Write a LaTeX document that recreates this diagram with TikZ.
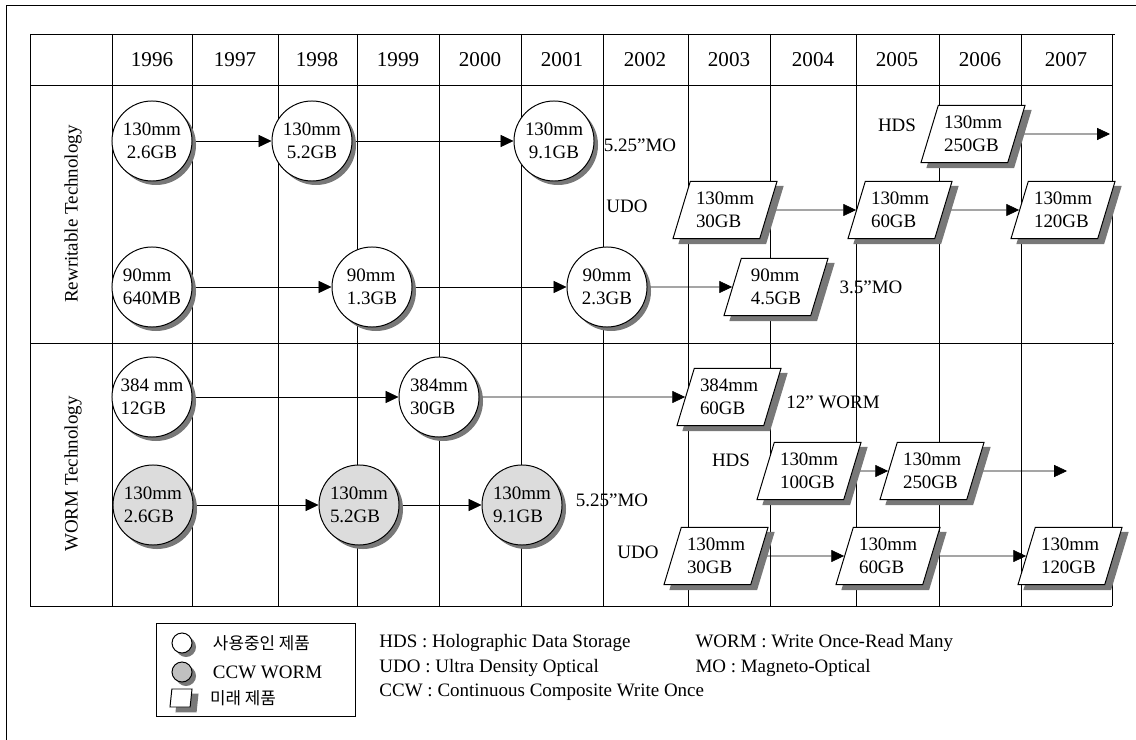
\documentclass[tikz,border=0pt]{standalone}
\usepackage{fontspec}
\setmainfont{Liberation Serif}
\newfontfamily\krfont{Noto Sans CJK KR}
\usepackage{tikz}
\usetikzlibrary{shapes.geometric, arrows.meta, positioning, backgrounds}
\definecolor{shadowgray}{RGB}{120,120,120}
\definecolor{ccwfill}{RGB}{220,220,220}
\definecolor{legfill}{RGB}{192,192,192}

\begin{document}
\begin{tikzpicture}[
  x=0.025cm, y=-0.025cm,
  line width=0.7pt,
  font=\fontsize{13.5}{16.5}\selectfont,
  disc/.style={circle, draw, fill=white, minimum size=2cm, inner sep=0pt, align=center},
  ccw/.style={disc, fill=ccwfill, align=left},
  future/.style={trapezium, trapezium left angle=66, trapezium right angle=114,
    trapezium stretches body=true, draw, fill=white, minimum width=2.6cm, minimum height=1.43cm,
    inner sep=1pt, align=left},
  csh/.style={shift={(0.1cm,-0.1cm)}},
  psh/.style={shift={(0.15cm,-0.125cm)}},
  tag/.style={inner sep=1pt},
  legtext/.style={inner sep=0pt, anchor=west},
  flow/.style={-{Triangle[length=0.32cm, width=0.3cm]}},
  yearlabel/.style={font=\fontsize{15}{18}\selectfont}
]
\useasboundingbox (0,0) rectangle (1136,740);

% frame and table grid
\begin{scope}[on background layer]
\draw (6,740) -- (6,5) -- (1136,5);
\draw (30,34) -- (1115,34);
\draw (30,85) -- (1112,85);
\draw (30,343) -- (1114,343);
\draw (30,606) -- (1112,606);
\foreach \gx in {30,112,192,278,357,439,521,603,688,770,856,939,1021,1112}
  \draw (\gx,34) -- (\gx,606);
\end{scope}
\foreach \yr/\cx in {1996/152,1997/235,1998/317,1999/398,2000/480,2001/562,2002/645,2003/729,2004/813,2005/897,2006/980,2007/1066}
  \node[yearlabel] (y\yr) at (\cx,60) {\yr};
\node[rotate=90] (rwLabel) at (73,214) {Rewritable Technology};
\node[rotate=90] (wormLabel) at (73,474) {WORM Technology};

% rewritable
\node[disc] (mo130a) at (152,141) {130mm\\2.6GB};
\node[disc] (mo130b) at (312,141) {130mm\\5.2GB};
\node[disc] (mo130c) at (554,141) {130mm\\9.1GB};
\node[tag] (moA) at (640,145) {5.25”MO};
\node[tag] (hdsA) at (897,125) {HDS};
\node[future] (hds250a) at (973,134) {130mm\\250GB};
\coordinate (hdsAend) at (1110,134);
\node[tag] (udoA) at (627,206) {UDO};
\node[future] (udo30a) at (725,210) {130mm\\30GB};
\node[future] (udo60a) at (900,210) {130mm\\60GB};
\node[future] (udo120a) at (1063,210) {130mm\\120GB};
\node[disc, align=left] (mo90a) at (152,287) {90mm\\640MB};
\node[disc, align=left] (mo90b) at (372,287) {90mm\\1.3GB};
\node[disc] (mo90c) at (607,287) {90mm\\2.3GB};
\node[future] (mo90d) at (776,287) {90mm\\4.5GB};
\node[tag] (moB) at (871,287) {3.5”MO};

% worm
\node[disc, align=left] (w384a) at (152,397) {384 mm\\12GB};
\node[disc, align=left] (w384b) at (439,397) {384mm\\30GB};
\node[future] (w384c) at (729,397) {384mm\\60GB};
\node[tag] (wormA) at (833,402) {12” WORM};
\node[tag] (hdsB) at (731,460) {HDS};
\node[future] (hds100b) at (809,471) {130mm\\100GB};
\node[future] (hds250b) at (932,471) {130mm\\250GB};
\coordinate (hdsBend) at (1067,471);
\node[ccw] (ccwa) at (153,505) {130mm\\2.6GB};
\node[ccw] (ccwb) at (359,505) {130mm\\5.2GB};
\node[ccw] (ccwc) at (522,505) {130mm\\9.1GB};
\node[tag] (moC) at (612,500) {5.25”MO};
\node[tag] (udoB) at (638,552) {UDO};
\node[future] (udo30b) at (716,556) {130mm\\30GB};
\node[future] (udo60b) at (888,556) {130mm\\60GB};
\node[future] (udo120b) at (1070,556) {130mm\\120GB};

% legend
\node[draw, minimum width=4.95cm, minimum height=2.3cm] (legBox) at (256,670) {};
\node[disc, minimum size=0.5cm] (legUse) at (182,643) {};
\node[disc, fill=legfill, minimum size=0.5cm] (legCcw) at (182,672) {};
\node[future, minimum width=0.55cm, minimum height=0.45cm, inner sep=0.5pt] (legFut) at (181,698) {\rule{0pt}{2pt}\rule{2pt}{0pt}};
\node[legtext, right=0.5cm of legUse, font=\krfont\fontsize{12}{14}\selectfont] (legUseTxt) {사용중인 제품};
\node[legtext, right=0.5cm of legCcw] (legCcwTxt) {CCW WORM};
\node[legtext, right=0.45cm of legFut, font=\krfont\fontsize{12}{14}\selectfont] (legFutTxt) {미래 제품};
\node[legtext] (abHds) at (379,643) {HDS : Holographic Data Storage};
\node[legtext] (abUdo) at (379,668) {UDO : Ultra Density Optical};
\node[legtext] (abCcw) at (379,692) {CCW : Continuous Composite Write Once};
\node[legtext] (abWorm) at (695,643) {WORM : Write Once-Read Many};
\node[legtext] (abMo) at (695,668) {MO : Magneto-Optical};

% arrows and shadows behind the nodes
\begin{scope}[on background layer]
\draw[flow] (mo130a) -- (mo130b);
\draw[flow] (mo130b) -- (mo130c);
\draw[flow] (hds250a) -- (hdsAend);
\draw[flow] (udo30a) -- (udo60a);
\draw[flow] (udo60a) -- (udo120a);
\draw[flow] (mo90a) -- (mo90b);
\draw[flow] (mo90b) -- (mo90c);
\draw[flow] (mo90c) -- (mo90d);
\draw[flow] (w384a) -- (w384b);
\draw[flow] (w384b) -- (w384c);
\draw[flow] (hds100b) -- (hds250b);
\draw[flow] (hds250b) -- (hdsBend);
\draw[flow] (ccwa) -- (ccwb);
\draw[flow] (ccwb) -- (ccwc);
\draw[flow] (udo30b) -- (udo60b);
\draw[flow] (udo60b) -- (udo120b);
\foreach \n in {mo130a,mo130b,mo130c,mo90a,mo90b,mo90c,w384a,w384b,ccwa,ccwb,ccwc}
  \fill[shadowgray] ([csh]\n.center) circle (1cm);
\foreach \n in {legUse,legCcw}
  \fill[shadowgray] ([csh]\n.center) circle (0.25cm);
\foreach \n in {hds250a,udo30a,udo60a,udo120a,mo90d,w384c,hds100b,hds250b,udo30b,udo60b,udo120b,legFut}
  \fill[shadowgray] ([psh]\n.bottom left corner) -- ([psh]\n.top left corner)
    -- ([psh]\n.top right corner) -- ([psh]\n.bottom right corner) -- cycle;
\end{scope}
\end{tikzpicture}
\end{document}
